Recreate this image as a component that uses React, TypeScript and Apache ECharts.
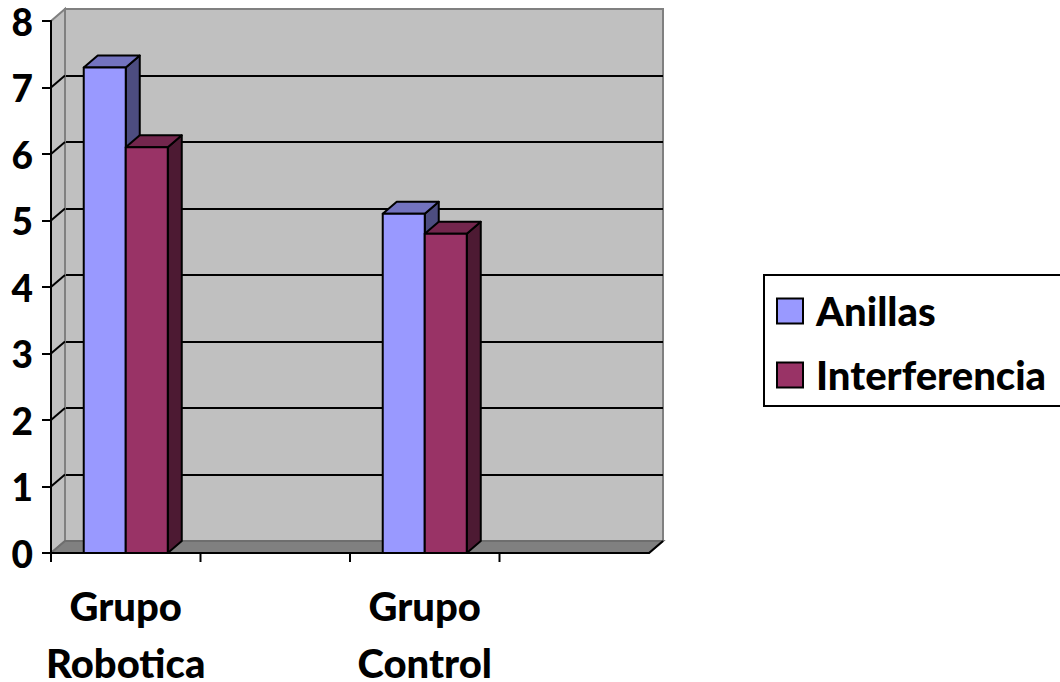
import React, { useEffect, useRef } from "react";
import * as echarts from "echarts";

const categories = ["Grupo\nRobotica", "", "Grupo\nControl", ""];
const anillas = [7.3, null, 5.1, null];
const interferencia = [6.1, null, 4.8, null];
const yTicks = [0, 1, 2, 3, 4, 5, 6, 7, 8];
const FONT = "Lato, Carlito, 'Open Sans', sans-serif";
const DX = 14;
const DY = -12;
const BAR_FRACTION = 0.281;

const pts = (a: number[][]) => ({ points: a });

function barItem(offset: number, front: string, top: string, side: string) {
  return (params: any, api: any) => {
    const v = api.value(1);
    const c = api.value(0);
    if (v === null || v === undefined || Number.isNaN(v)) return { type: "group", children: [] };
    const [cx, yTop] = api.coord([c, v]);
    const [, yBase] = api.coord([c, 0]);
    const w = api.size([1, 0])[0] * BAR_FRACTION;
    const x0 = cx + offset * w;
    const x1 = x0 + w;
    const stroke = { stroke: "#000", lineWidth: 2, lineJoin: "round" };
    return {
      type: "group",
      children: [
        { type: "polygon", shape: pts([[x1, yTop], [x1 + DX, yTop + DY], [x1 + DX, yBase + DY], [x1, yBase]]), style: { fill: side, ...stroke } },
        { type: "polygon", shape: pts([[x0, yTop], [x0 + DX, yTop + DY], [x1 + DX, yTop + DY], [x1, yTop]]), style: { fill: top, ...stroke } },
        { type: "rect", shape: { x: x0, y: yTop, width: w, height: yBase - yTop }, style: { fill: front, ...stroke } },
      ],
    };
  };
}

export default function App() {
  const ref = useRef<HTMLDivElement>(null);
  useEffect(() => {
    const chart = echarts.init(ref.current!, undefined, { renderer: "svg" });
    chart.setOption({
      animation: false,
      backgroundColor: "#fff",
      grid: [
        { left: 51, top: 21, width: 598, height: 532, outerBoundsMode: "none" },
        { left: 65, top: 9, width: 598, height: 532, outerBoundsMode: "none", show: true, backgroundColor: "#c0c0c0", borderColor: "#808080", borderWidth: 2 },
      ],
      xAxis: [
        {
          type: "category",
          gridIndex: 0,
          data: categories,
          axisLine: { lineStyle: { color: "#000", width: 2 } },
          axisTick: { show: false },
          axisLabel: { fontFamily: FONT, fontWeight: 900, fontSize: 40, color: "#000", lineHeight: 57, margin: 24, interval: 0 },
          z: 10,
        },
        { type: "value", gridIndex: 1, show: false, min: 0, max: 1 },
      ],
      yAxis: [
        {
          type: "value",
          gridIndex: 0,
          min: 0,
          max: 8,
          interval: 1,
          axisLine: { show: true, lineStyle: { color: "#000", width: 2 } },
          axisTick: { show: true, length: 9, lineStyle: { color: "#000", width: 2 } },
          axisLabel: { fontFamily: FONT, fontWeight: 900, fontSize: 37, color: "#000", margin: 18 },
          splitLine: { show: false },
          z: 10,
        },
        {
          type: "value",
          gridIndex: 1,
          min: 0,
          max: 8,
          interval: 1,
          axisLine: { show: false },
          axisTick: { show: false },
          axisLabel: { show: false },
          splitLine: { show: true, showMinLine: false, showMaxLine: false, lineStyle: { color: "#000", width: 2 } },
        },
      ],
      legend: {
        left: 764,
        top: 275,
        orient: "vertical",
        data: ["Anillas", "Interferencia"],
        icon: "rect",
        itemWidth: 26,
        itemHeight: 25,
        itemGap: 24,
        backgroundColor: "#fff",
        borderColor: "#000",
        borderWidth: 2,
        padding: [16, 40, 11, 12],
        itemStyle: { borderColor: "#000", borderWidth: 2 },
        textStyle: { fontFamily: FONT, fontWeight: 900, fontSize: 40, color: "#000", padding: [0, 0, 0, 8] },
      },
      series: [
        {
          type: "custom",
          name: "walls",
          coordinateSystem: "cartesian2d",
          xAxisIndex: 0,
          yAxisIndex: 0,
          silent: true,
          z: 2,
          data: [[0, 0]],
          renderItem: (params: any, api: any) => {
            const g = params.coordSys;
            const top = g.y;
            const bottom = g.y + g.height;
            const left = g.x;
            const right = g.x + g.width;
            const children: any[] = [
              { type: "polygon", shape: pts([[left, top], [left + DX, top + DY], [left + DX, bottom + DY], [left, bottom]]), style: { fill: "#c0c0c0", stroke: "#808080", lineWidth: 2 } },
              { type: "polygon", shape: pts([[left, bottom], [left + DX, bottom + DY], [right + DX, bottom + DY], [right, bottom]]), style: { fill: "#808080", stroke: "#6e6e6e", lineWidth: 2 } },
              { type: "line", shape: { x1: right, y1: bottom, x2: right + DX, y2: bottom + DY }, style: { stroke: "#000", lineWidth: 2 } },
            ];
            yTicks.forEach((t) => {
              const y = api.coord([0, t])[1];
              if (t > 0 && t < 8) children.push({ type: "line", shape: { x1: left, y1: y, x2: left + DX, y2: y + DY }, style: { stroke: "#000", lineWidth: 2 } });
            });
            categories.forEach((_, i) => {
              const x = api.coord([i, 0])[0] - api.size([1, 0])[0] / 2;
              children.push({ type: "line", shape: { x1: x, y1: bottom, x2: x, y2: bottom + 9 }, style: { stroke: "#000", lineWidth: 2 } });
            });
            return { type: "group", children };
          },
        },
        {
          type: "custom",
          name: "Anillas",
          coordinateSystem: "cartesian2d",
          xAxisIndex: 0,
          yAxisIndex: 0,
          z: 3,
          itemStyle: { color: "#9999ff" },
          data: anillas.map((v, i) => [i, v]),
          encode: { x: 0, y: 1 },
          renderItem: barItem(-1, "#9999ff", "#7373bf", "#4d4d80"),
        },
        {
          type: "custom",
          name: "Interferencia",
          coordinateSystem: "cartesian2d",
          xAxisIndex: 0,
          yAxisIndex: 0,
          z: 4,
          itemStyle: { color: "#993366" },
          data: interferencia.map((v, i) => [i, v]),
          encode: { x: 0, y: 1 },
          renderItem: barItem(0, "#993366", "#73264d", "#4d1a33"),
        },
      ],
    });
    return () => chart.dispose();
  }, []);
  return <div ref={ref} style={{ position: "absolute", left: 0, top: 0, width: 1060, height: 682 }} />;
}
